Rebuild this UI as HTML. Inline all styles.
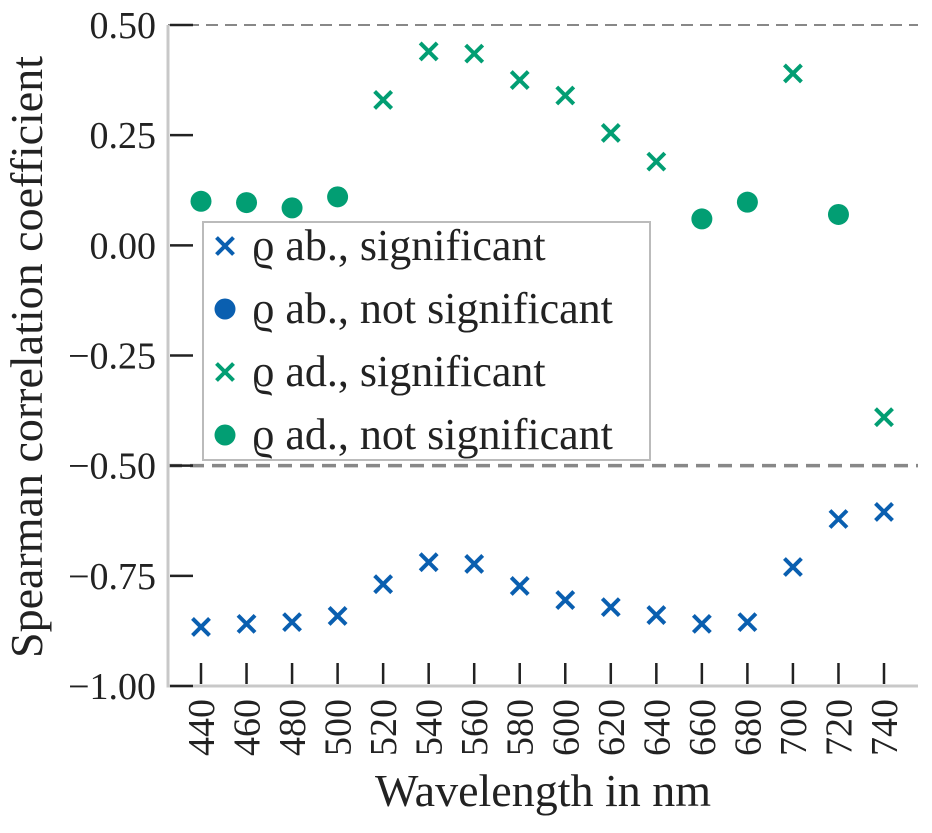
<!DOCTYPE html>
<html><head><meta charset="utf-8"><style>
body{margin:0;background:#fff;}
svg text{font-family:"Liberation Serif",serif;fill:#222;}
</style></head><body>
<svg id="chart" width="932" height="828" xmlns="http://www.w3.org/2000/svg"></svg>
<script>
const wavelengths=[440,460,480,500,520,540,560,580,600,620,640,660,680,700,720,740];
const adValues=[0.10,0.097,0.085,0.11,0.33,0.44,0.435,0.375,0.34,0.255,0.19,0.06,0.098,0.39,0.07,-0.39];
const adSignificant=[0,0,0,0,1,1,1,1,1,1,1,0,0,1,0,1];
const abValues=[-0.866,-0.859,-0.855,-0.841,-0.769,-0.719,-0.723,-0.773,-0.805,-0.821,-0.839,-0.859,-0.855,-0.730,-0.621,-0.605];
const abSignificant=[1,1,1,1,1,1,1,1,1,1,1,1,1,1,1,1];
const yTicks=[0.50,0.25,0.00,-0.25,-0.50,-0.75,-1.00];
const yTickLabels=["0.50","0.25","0.00","\u22120.25","\u22120.50","\u22120.75","\u22121.00"];

const NS="http://www.w3.org/2000/svg";
const svg=document.getElementById('chart');
const X=w=>201+(w-440)*(884-201)/300;
const Y=v=>25+(0.5-v)*(686-25)/1.5;
const GREEN="#029e73",BLUE="#0a5fb0";
function mk(t,a,p){const e=document.createElementNS(NS,t);for(const k in a)e.setAttribute(k,a[k]);(p||svg).appendChild(e);return e;}

let d1=mk('line',{x1:168,x2:918,y1:Y(0.5),y2:Y(0.5),stroke:'#888','stroke-width':2,'stroke-dasharray':'12,7'});


let d2=mk('line',{x1:168,x2:918,y1:Y(-0.5),y2:Y(-0.5),stroke:'#888','stroke-width':3.5,'stroke-dasharray':'14,8'});



let sp=mk('path',{d:'M168,25 V686 H918',fill:'none',stroke:'#c8c8c8','stroke-width':3});



yTicks.forEach((v,i)=>{
  let t=mk('line',{x1:170,x2:193,y1:Y(v),y2:Y(v),stroke:'#222','stroke-width':2.5});
  
  
  let l=mk('text',{x:156,y:Y(v)+13,'text-anchor':'end','font-size':38});
  l.textContent=yTickLabels[i];
  
  
});
wavelengths.forEach(w=>{
  let t=mk('line',{x1:X(w),x2:X(w),y1:663,y2:684,stroke:'#222','stroke-width':2.5});
  
  
  let l=mk('text',{x:0,y:0,'font-size':38,'text-anchor':'end',transform:`translate(${X(w)+13},699) rotate(-90)`});
  l.textContent=w;
  
  
});

function cross(x,y,c,name){
  const g=mk('g',{});
  
  
  const s=8.5;
  mk('path',{d:`M${x-s},${y-s}L${x+s},${y+s}M${x-s},${y+s}L${x+s},${y-s}`,stroke:c,'stroke-width':4},g);
  return g;
}
function dot(x,y,c,name){
  const e=mk('circle',{cx:x,cy:y,r:10.5,fill:c});
  
  
}
wavelengths.forEach((w,i)=>{
  if(adSignificant[i])cross(X(w),Y(adValues[i]),GREEN,'ad-significant-point');
  else dot(X(w),Y(adValues[i]),GREEN,'ad-not-significant-point');
  if(abSignificant[i])cross(X(w),Y(abValues[i]),BLUE,'ab-significant-point');
  else dot(X(w),Y(abValues[i]),BLUE,'ab-not-significant-point');
});

const lg=mk('g',{});


mk('rect',{x:203,y:222,width:447,height:238,fill:'#fff','fill-opacity':0.85,stroke:'#bbb','stroke-width':2},lg);
const entries=[['x',BLUE,'\u03f1 ab., significant'],['o',BLUE,'\u03f1 ab., not significant'],['x',GREEN,'\u03f1 ad., significant'],['o',GREEN,'\u03f1 ad., not significant']];
entries.forEach((e,i)=>{
  const y=246+i*63;
  if(e[0]==='x'){const g=cross(225,y,e[1],'legend-marker');lg.appendChild(g);}
  else{const c=mk('circle',{cx:225,cy:y,r:10.5,fill:e[1]},lg);}
  const t=mk('text',{x:252,y:y+14,'font-size':44},lg);
  t.textContent=e[2];
  t.textLength&&0;
  
  
});

let xt=mk('text',{x:543,y:806,'text-anchor':'middle','font-size':46});
xt.textContent='Wavelength in nm';


let yt=mk('text',{x:0,y:0,'text-anchor':'middle','font-size':46,transform:'translate(42,357) rotate(-90)'});
yt.textContent='Spearman correlation coefficient';


</script>
</body></html>
